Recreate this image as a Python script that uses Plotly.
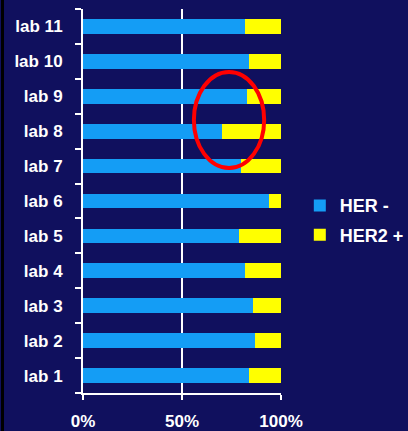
import plotly.graph_objects as go

labs = ["lab 1", "lab 2", "lab 3", "lab 4", "lab 5", "lab 6",
        "lab 7", "lab 8", "lab 9", "lab 10", "lab 11"]
her_neg = [84, 87, 86, 82, 79, 94, 80, 70, 83, 84, 82]
her2_pos = [16, 13, 14, 18, 21, 6, 20, 30, 17, 16, 18]
x_ticks = [0, 50, 100]
x_tick_text = ["0%", "50%", "100%"]

BG = "#10105E"
BLUE = "#149DF5"
YELLOW = "#FFFF00"
FONT = dict(family="Liberation Sans, Arial, sans-serif", size=17, color="white", weight="bold")

fig = go.Figure()
fig.add_trace(go.Bar(y=labs, x=her_neg, orientation="h", name="HER -",
                     marker=dict(color=BLUE, line=dict(width=0)), width=0.42,
                     legendgroup="a"))
fig.add_trace(go.Bar(y=labs, x=her2_pos, orientation="h", name="HER2 +",
                     marker=dict(color=YELLOW, line=dict(width=0)), width=0.42,
                     legendgroup="b"))

fig.update_layout(
    width=408, height=431,
    barmode="stack",
    paper_bgcolor=BG, plot_bgcolor=BG,
    margin=dict(l=83, r=127, t=9, b=38, autoexpand=False),
    font=FONT,
    showlegend=True,
    legend=dict(x=1.095, xanchor="left", y=0.45, yanchor="middle",
                traceorder="grouped", tracegroupgap=3,
                font=dict(family="Liberation Sans, Arial, sans-serif", size=18,
                          color="white", weight="bold"),
                bgcolor="rgba(0,0,0,0)"),
    xaxis=dict(range=[0, 100], tickvals=x_ticks, ticktext=x_tick_text,
               showgrid=True, gridcolor="white", gridwidth=2,
               showline=True, linecolor="white", linewidth=2,
               ticks="outside", ticklen=5, tickcolor="white", tickwidth=2,
               zeroline=False, ticklabelstandoff=7, automargin=False),
    yaxis=dict(showgrid=False, showline=True, linecolor="white", linewidth=2,
               ticks="outside", ticklen=6, tickcolor="white", tickwidth=2,
               tickson="boundaries", ticklabelstandoff=15, zeroline=False,
               automargin=False),
    shapes=[
        dict(type="circle", xref="x", yref="paper", x0=56, x1=91.5, y0=0.586, y1=0.836,
             line=dict(color="#FF0000", width=4)),
        dict(type="line", xref="paper", yref="paper",
             x0=(2.5 - 83) / 198, x1=(2.5 - 83) / 198, y0=-0.1, y1=1.03,
             line=dict(color="black", width=3)),
    ],
)

fig.write_html("out.html",
               config={"displayModeBar": False},
               post_script="document.body.style.margin='0';"
                           "document.body.style.background='#10105E';"
                           "document.body.style.overflow='hidden';")
